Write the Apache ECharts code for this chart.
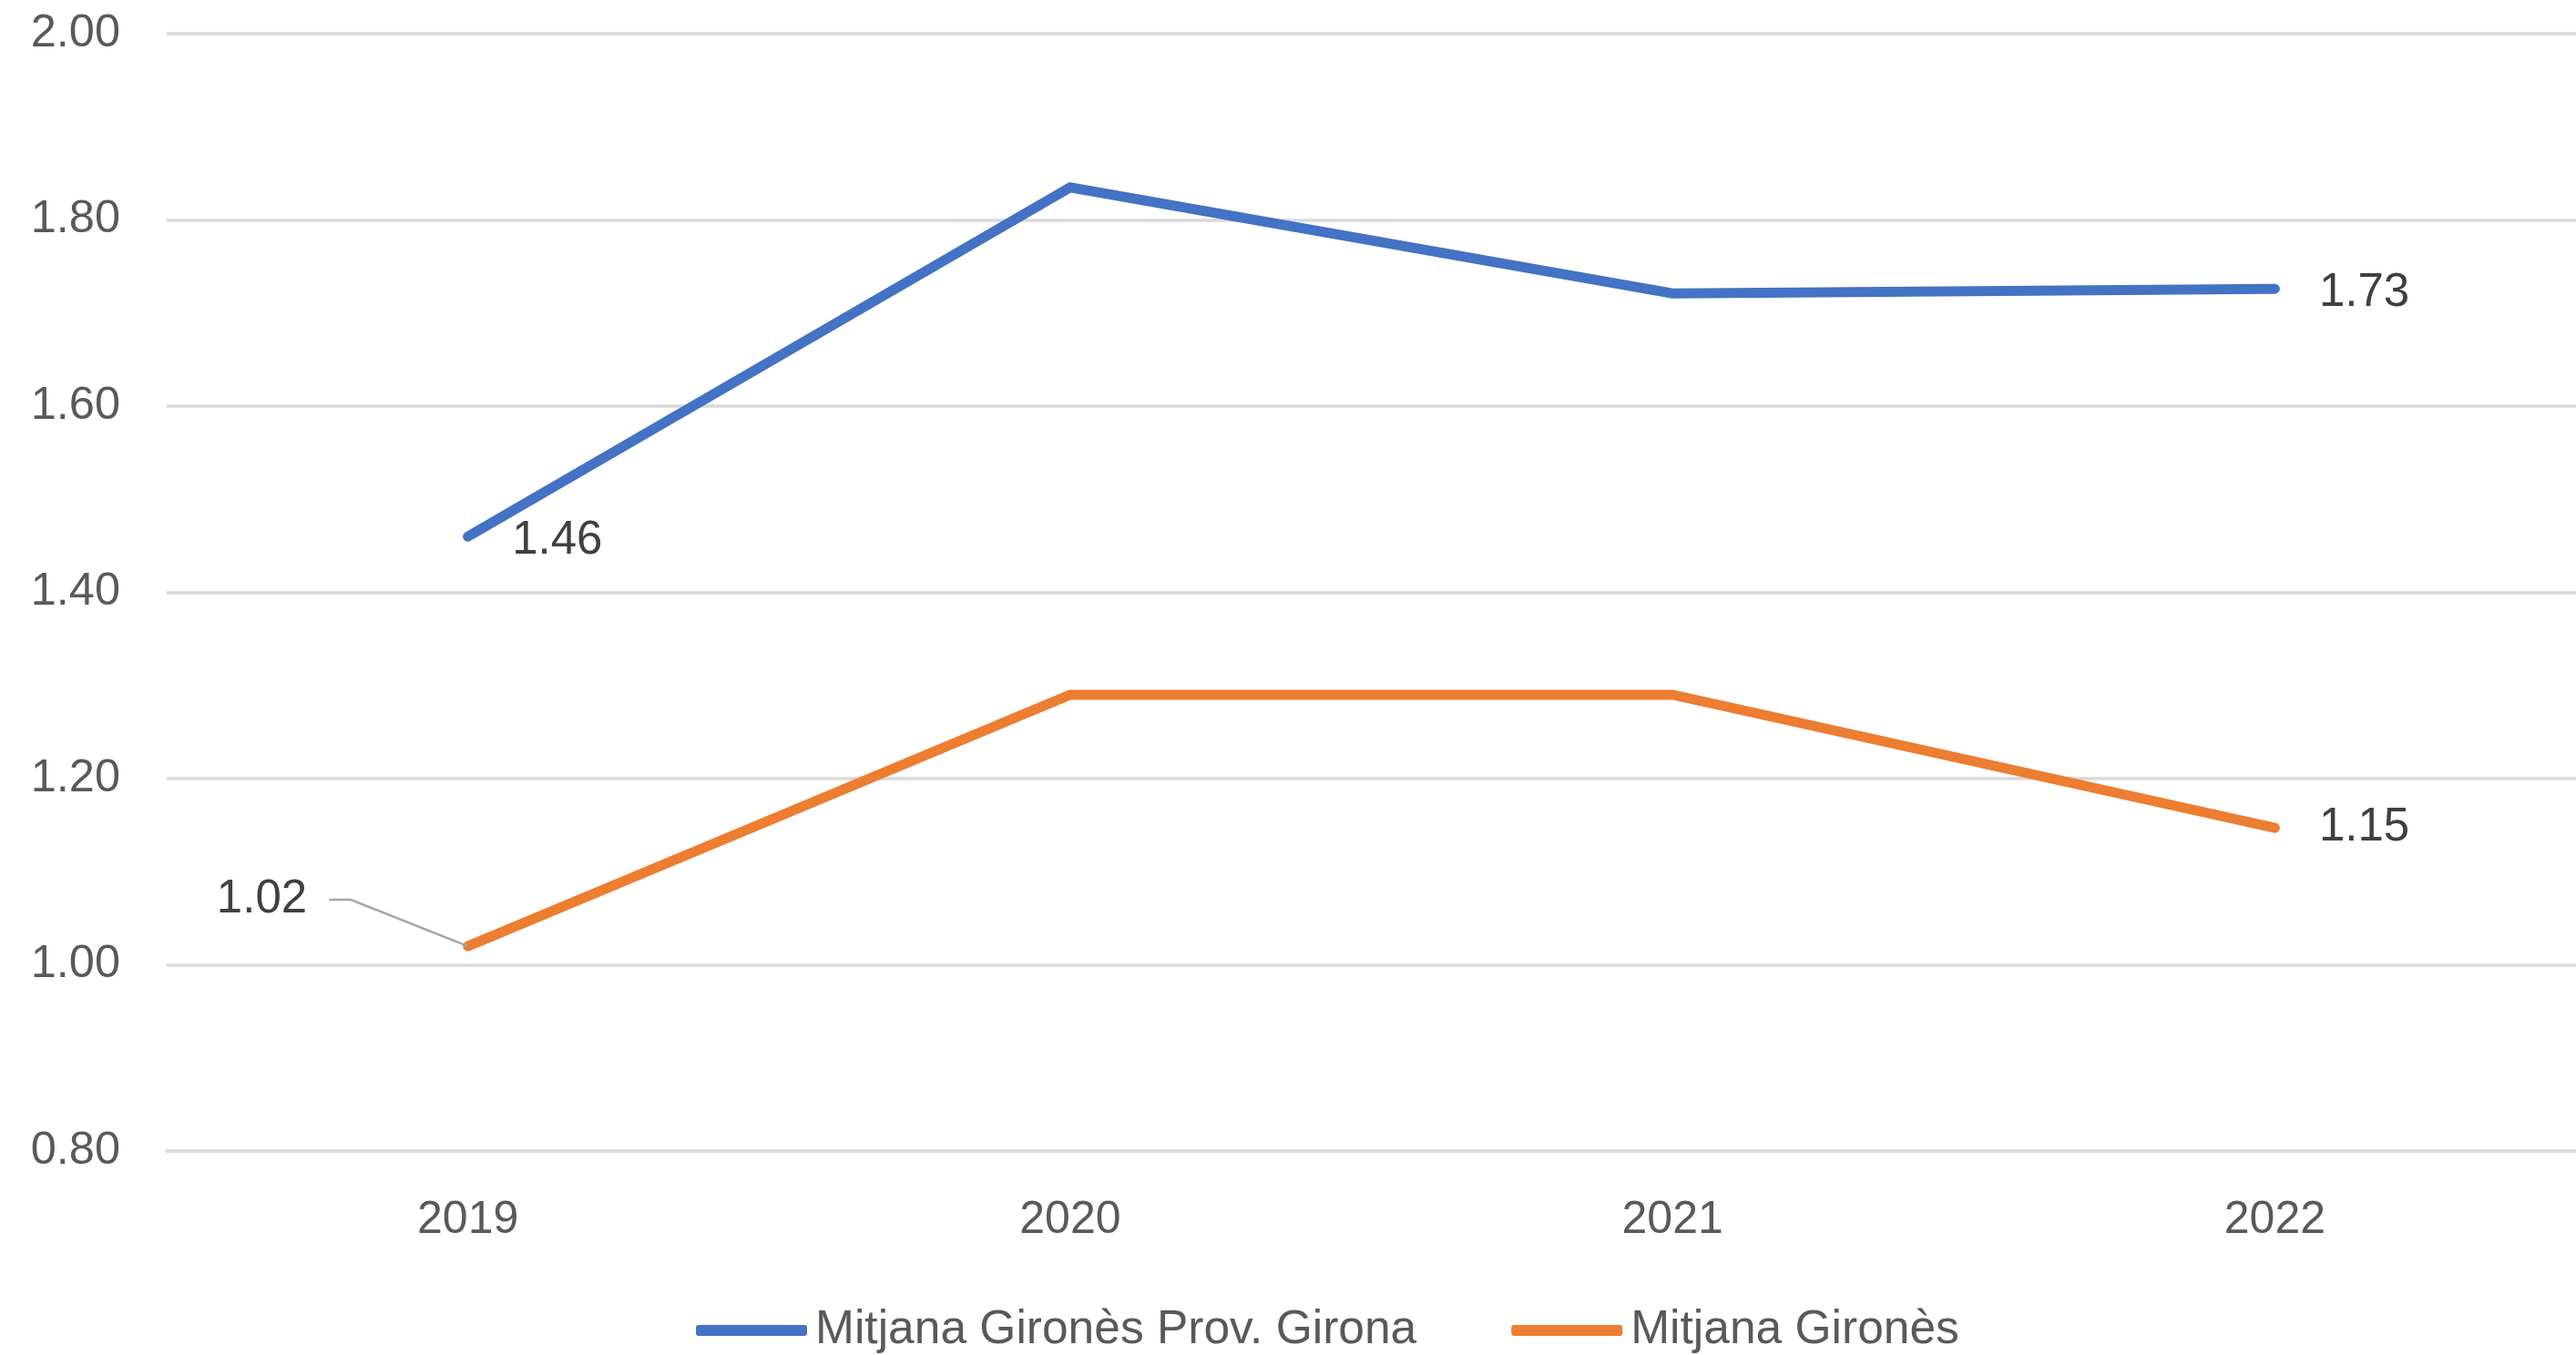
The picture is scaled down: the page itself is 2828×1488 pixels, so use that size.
<!DOCTYPE html>
<html>
<head>
<meta charset="utf-8">
<script src="https://cdn.jsdelivr.net/npm/echarts@6/dist/echarts.min.js"></script>
<style>
html,body{margin:0;padding:0;background:#fff;}
#chart{width:2828px;height:1488px;}
</style>
</head>
<body>
<div id="chart"></div>
<script>
const categories = ['2019', '2020', '2021', '2022'];
const provGirona = [1.46, 1.835, 1.721, 1.726];
const girones = [1.02, 1.29, 1.29, 1.147];
const yTicks = [0.8, 1.0, 1.2, 1.4, 1.6, 1.8, 2.0];
const seriesNames = ['Mitjana Gironès Prov. Girona', 'Mitjana Gironès'];

const FONT = '"Liberation Sans", Arial, sans-serif';
const labelStyle = { fontFamily: FONT, fontSize: 51, color: '#404040' };

function makeData(values, labelIdx) {
  return values.map((v, i) => {
    const d = { value: v };
    if (labelIdx.includes(i)) {
      d.label = { show: true, position: 'right', distance: 48, offset: [0, 5], formatter: p => p.value.toFixed(2) };
    }
    return d;
  });
}

const blueData = makeData(provGirona, [0, 3]);
const orangeData = makeData(girones, [3]);
orangeData[0].label = {
  show: true, position: 'left', distance: 4, padding: [0, 24, 0, 0],
  backgroundColor: 'rgba(255,255,255,0)',
  formatter: p => p.value.toFixed(2)
};
orangeData[0].labelLine = { show: true, length2: 24, lineStyle: { color: '#a6a6a6', width: 2.5 } };

const chart = echarts.init(document.getElementById('chart'), null, { renderer: 'canvas' });
chart.setOption({
  backgroundColor: '#ffffff',
  animation: false,
  grid: { left: 183, right: -5, top: 37, bottom: 224, containLabel: false },
  legend: {
    data: seriesNames,
    left: 759, top: 1430,
    icon: 'roundRect',
    itemWidth: 122, itemHeight: 12,
    itemGap: 104,
    textStyle: { fontFamily: FONT, fontSize: 51.5, color: '#595959', padding: [0, 0, 0, 4] }
  },
  xAxis: {
    type: 'category',
    data: categories,
    boundaryGap: true,
    axisLine: { show: true, lineStyle: { color: '#d9d9d9', width: 3.5 } },
    axisTick: { show: false },
    axisLabel: { fontFamily: FONT, fontSize: 50, color: '#595959', margin: 51 }
  },
  yAxis: {
    type: 'value',
    min: yTicks[0], max: yTicks[yTicks.length - 1], interval: 0.2,
    axisLine: { show: false },
    axisTick: { show: false },
    axisLabel: { fontFamily: FONT, fontSize: 50.5, color: '#595959', margin: 51, formatter: v => v.toFixed(2) },
    splitLine: { show: true, lineStyle: { color: '#d9d9d9', width: 3.5 } }
  },
  series: [
    {
      name: seriesNames[0], type: 'line', data: blueData,
      symbol: 'circle', symbolSize: 1, showSymbol: true,
      itemStyle: { color: '#4472C4' },
      lineStyle: { color: '#4472C4', width: 11, cap: 'round', join: 'miter' },
      label: labelStyle
    },
    {
      name: seriesNames[1], type: 'line', data: orangeData,
      symbol: 'circle', symbolSize: 1, showSymbol: true,
      itemStyle: { color: '#ED7D31' },
      lineStyle: { color: '#ED7D31', width: 11, cap: 'round', join: 'miter' },
      label: labelStyle,
      labelLayout: function (p) {
        if (p.dataIndex === 0) return { dx: -148, dy: -51 };
        return {};
      }
    }
  ]
});
</script>
</body>
</html>
